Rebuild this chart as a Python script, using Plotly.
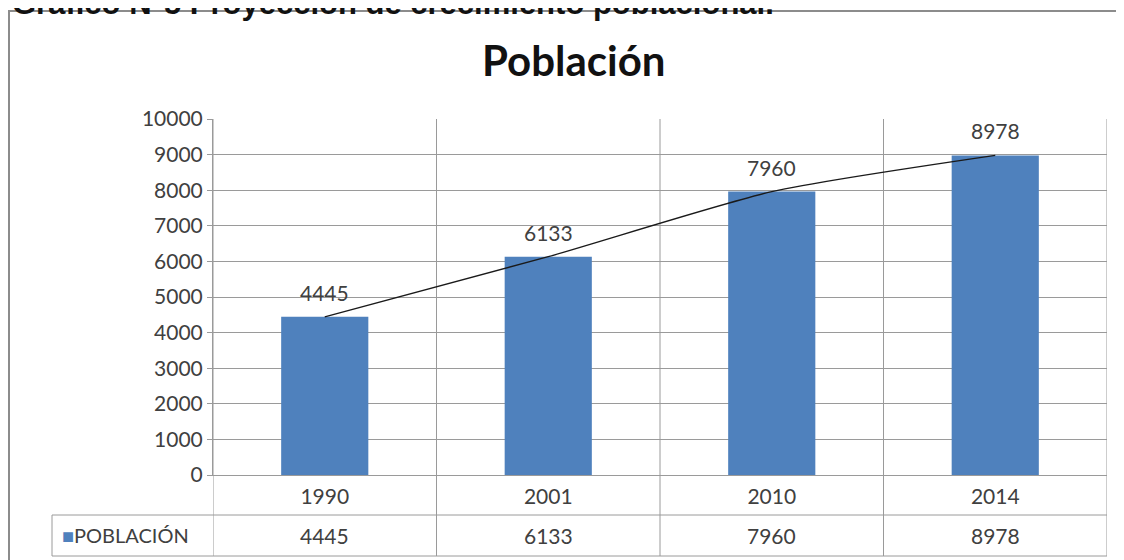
import plotly.graph_objects as go

years = ["1990", "2001", "2010", "2014"]
poblacion = [4445, 6133, 7960, 8978]
y_ticks = [0, 1000, 2000, 3000, 4000, 5000, 6000, 7000, 8000, 9000, 10000]
y_tick_text = ["0", "1000", "2000", "3000", "4000", "5000", "6000", "7000", "8000", "9000", "10000"]
series_name = "POBLACIÓN"
chart_title = "Población"
page_title = "Gráfico N°5 Proyección de crecimiento poblacional."

BAR = "#4F81BD"
GRID = "#9A9A9A"
TXT = "#404040"
FONT = "Lato"

FW, FH = 1124, 560
OFF = 8  # page body margin
# plot area in screenshot pixels
L, R, T, B = 213 - OFF, 1107 - OFF, 119 - OFF, 475 - OFF
W, H = R - L, B - T
def px(x):
    return (x - OFF - L) / W
def py(y):
    return (B - (y - OFF)) / H

idx = list(range(len(years)))

fig = go.Figure()
fig.add_trace(go.Bar(x=idx, y=poblacion, marker=dict(color=BAR, line=dict(width=0)),
                     name=series_name, showlegend=False, hovertext=years, hoverinfo="text+y"))
fig.add_trace(go.Scatter(x=idx, y=poblacion, mode="lines",
                         line=dict(color="#1a1a1a", width=1.3, shape="spline", smoothing=0.6),
                         showlegend=False, hoverinfo="skip"))

ann = []
# data labels above bars
for i, v in zip(idx, poblacion):
    ann.append(dict(x=i, y=v, xref="x", yref="y", text=str(v), showarrow=False,
                    yanchor="bottom", yshift=10, font=dict(family=FONT, size=21, color=TXT)))
# data table value row
for i, v in zip(idx, poblacion):
    ann.append(dict(x=i, y=py(535), xref="x", yref="paper", text=str(v), showarrow=False,
                    yanchor="middle", font=dict(family=FONT, size=21, color=TXT)))
# legend key cell
ann.append(dict(x=px(60), y=py(535), xref="paper", yref="paper", xanchor="left", yanchor="middle",
                text=f"<span style='color:{BAR}'>■</span>{series_name}", showarrow=False,
                font=dict(family=FONT, size=20, color=TXT)))
# chart title
ann.append(dict(x=px(573), y=py(60), xref="paper", yref="paper", text=f"<b>{chart_title}</b>",
                showarrow=False, xanchor="center", yanchor="middle",
                font=dict(family=FONT, size=42, color="#111111")))
# page caption (partly cut at top, as in the source)
ann.append(dict(x=px(10), y=py(3), xref="paper", yref="paper", text=f"<b>{page_title}</b>",
                showarrow=False, xanchor="left", yanchor="middle",
                font=dict(family="Liberation Sans", size=31, color="#111111")))

shapes = []
# outer chart border
shapes.append(dict(type="rect", xref="paper", yref="paper", x0=px(9), x1=px(1140), y0=py(580), y1=py(11),
                   line=dict(color="#8C8C8C", width=2), layer="below"))
# vertical category dividers (through the data table)
for i in range(len(years) + 1):
    shapes.append(dict(type="line", xref="x", yref="paper", x0=i - 0.5, x1=i - 0.5,
                       y0=py(556), y1=1, line=dict(color=GRID, width=1), layer="below"))
# table horizontal lines
for yy in (515, 556):
    shapes.append(dict(type="line", xref="paper", yref="paper", x0=px(52), x1=1, y0=py(yy), y1=py(yy),
                       line=dict(color=GRID, width=1)))
shapes.append(dict(type="line", xref="paper", yref="paper", x0=px(52), x1=px(52), y0=py(556), y1=py(515),
                   line=dict(color=GRID, width=1)))

fig.update_layout(
    width=FW, height=FH,
    margin=dict(l=L, r=FW - R, t=T, b=FH - B),
    paper_bgcolor="white", plot_bgcolor="white",
    bargap=0.61,
    annotations=ann, shapes=shapes,
    font=dict(family=FONT, color=TXT),
    xaxis=dict(tickmode="array", tickvals=idx, ticktext=years, showgrid=False, showline=True,
               linecolor=GRID, linewidth=1, ticks="", zeroline=False,
               tickfont=dict(family=FONT, size=21, color=TXT), ticklabelstandoff=3,
               range=[-0.5, 3.5], fixedrange=True),
    yaxis=dict(range=[0, 10000], tickmode="array", tickvals=y_ticks, ticktext=y_tick_text,
               showgrid=True, gridcolor=GRID, gridwidth=1,
               showline=True, linecolor=GRID, linewidth=1, ticks="outside", ticklen=5, tickcolor=GRID,
               tickfont=dict(family=FONT, size=21, color=TXT), zeroline=False, fixedrange=True),
)

fig.write_html("out.html")
